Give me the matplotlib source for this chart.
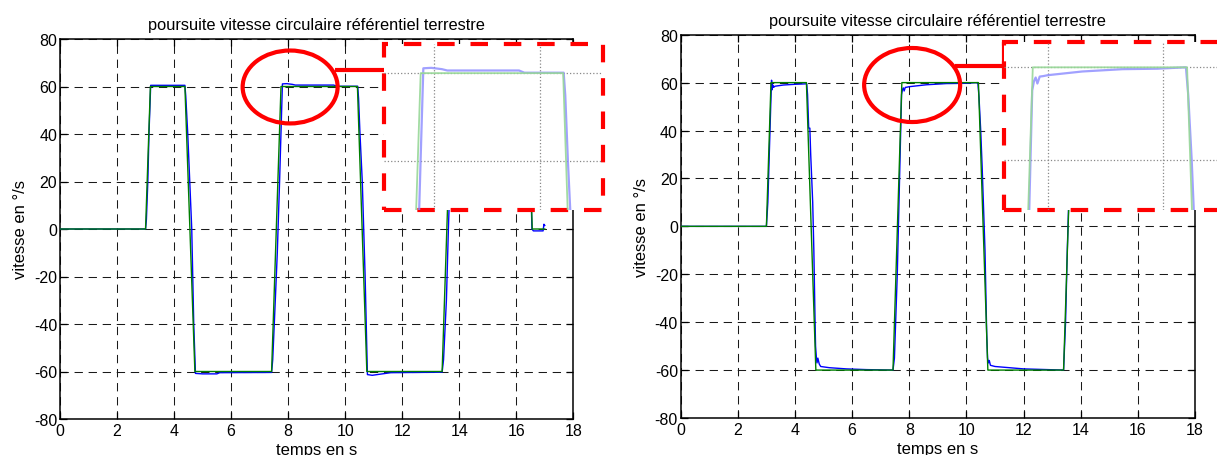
"""
Poursuite vitesse circulaire (référentiel terrestre) - two tracking runs
side by side, each with a zoom inset around the 60 °/s plateau.
"""

import numpy as np
import matplotlib.pyplot as plt
from matplotlib.patches import Ellipse, Rectangle
from matplotlib.lines import Line2D

plt.rcParams["font.family"] = ["Liberation Sans", "DejaVu Sans"]
plt.rcParams["axes.unicode_minus"] = False

# ----- Data -----
TITLE = "poursuite vitesse circulaire référentiel terrestre"
XLABEL = "temps en s"
YLABEL = "vitesse en °/s"

x_ticks = [0, 2, 4, 6, 8, 10, 12, 14, 16, 18]
y_ticks = [-80, -60, -40, -20, 0, 20, 40, 60, 80]

# left run: reference (green) and measured (blue)
t_ref_a = [0, 3.0, 3.17, 4.38, 4.73, 7.42, 7.75, 10.43, 10.76, 13.40, 13.73, 16.40, 16.56, 17.0]
v_ref_a = [0, 0, 60, 60, -60, -60, 60, 60, -60, -60, 60, 60, 0, 0]

t_mes_a = [0, 3.0, 3.03, 3.08, 3.12, 3.18, 4.38, 4.41, 4.48, 4.55, 4.62, 4.69, 4.75,
           5.0, 5.5, 5.6, 7.42, 7.46, 7.55, 7.62, 7.70, 7.76, 7.80, 7.95, 8.15,
           8.25, 9.60, 9.70, 10.44, 10.47, 10.52, 10.60, 10.70, 10.78, 10.95,
           11.30, 11.60, 13.40, 13.45, 13.55, 13.62, 13.70, 13.76, 16.42, 16.55,
           16.60, 16.94, 16.97, 17.0]
v_mes_a = [0, 0, 4, 20, 40, 60.5, 60.5, 56, 40, 20, 0, -40, -60.8,
           -61, -61, -60.5, -60.4, -55, -30, -10, 20, 45, 61.1, 61.2, 60.9,
           60.6, 60.6, 60.1, 60.1, 55, 40, 20, -20, -61.3, -61.6,
           -61.0, -60.5, -60.3, -55, -30, 0, 30, 60.4, 60.4, 0,
           -0.8, -0.8, 2, 1.5]

# right run
t_ref_b = [0, 3.0, 3.16, 4.40, 4.73, 7.43, 7.74, 10.42, 10.75, 13.40, 13.72, 17.7]
v_ref_b = [0, 0, 60, 60, -60, -60, 60, 60, -60, -60, 60, 60]

t_mes_b = [0, 3.0, 3.05, 3.10, 3.15, 3.18, 3.20, 3.22, 3.25, 3.30, 3.60, 4.00,
           4.41, 4.44, 4.48, 4.52, 4.55, 4.62, 4.66, 4.70, 4.72, 4.75, 4.77,
           4.80, 4.85, 4.90, 5.20, 5.80, 6.50, 7.43, 7.48, 7.58, 7.66, 7.73,
           7.76, 7.79, 7.82, 7.86, 7.92, 8.00, 8.60, 9.30, 9.90, 10.40,
           10.44, 10.47, 10.50, 10.55, 10.65, 10.71, 10.74, 10.77, 10.80,
           10.84, 11.00, 11.50, 12.00, 13.40, 13.47, 13.53, 13.58, 13.66,
           13.74, 17.7]
v_mes_b = [0, 0, 10, 30, 50, 61, 57, 59, 58, 58.5, 59, 59.3,
           59.5, 55, 41, 41, 30, 10, -10, -38, -50, -55, -57,
           -55, -57.5, -58.5, -59, -59.5, -59.8, -60, -55, -20, 20, 55,
           57, 57.8, 56.5, 58, 58.1, 58.3, 59.1, 59.6, 59.7, 60,
           54, 47, 40, 25, -10, -45, -55, -57, -56,
           -58, -58.5, -59, -59.5, -60, -40, -10, 10, 40,
           60, 60]

# zoom windows shown in the insets (time, speed)
zoom_a = ((7.06, 11.18), (29.0, 66.6))
zoom_b = ((7.24, 11.20), (29.2, 65.4))

BLUE = "#0000ff"
GREEN = "#007f00"
RED = "#ff0000"

W, H = 1217, 456
fig = plt.figure(figsize=(W / 100, H / 100), dpi=100)


def fpx(x, y):
    """pixel position -> figure fraction"""
    return x / W, 1 - y / H


def frect(x0, y0, x1, y1):
    return [x0 / W, 1 - y1 / H, (x1 - x0) / W, (y1 - y0) / H]


def main_axes(rect, t_ref, v_ref, t_mes, v_mes):
    ax = fig.add_axes(rect)
    ax.plot(t_mes, v_mes, color=BLUE, lw=1.0, zorder=3)
    ax.plot(t_ref, v_ref, color=GREEN, lw=1.0, zorder=4)
    ax.set_xlim(0, 18)
    ax.set_ylim(-80, 80)
    ax.set_xticks(x_ticks)
    ax.set_yticks(y_ticks)
    ax.tick_params(direction="in", length=5, width=0.9, top=True, right=True,
                   labelsize=11.5, pad=2)
    ax.tick_params(axis="x", pad=3)
    ax.grid(True, color="#1a1a1a", linestyle=(0, (8, 5.5)), linewidth=0.75)
    for s in ax.spines.values():
        s.set_linewidth(1.1)
    ax.set_title(TITLE, fontsize=11.8, pad=7)
    ax.set_xlabel(XLABEL, fontsize=12, labelpad=2.5)
    ax.set_ylabel(YLABEL, fontsize=12, labelpad=4)
    return ax


def inset_axes(rect, win, t_ref, v_ref, t_mes, v_mes):
    ax = fig.add_axes(rect, zorder=10)
    ax.set_facecolor("white")
    ax.plot(t_mes, v_mes, color="#8a8aff", lw=1.6, alpha=0.8)
    ax.plot(t_ref, v_ref, color="#98d898", lw=1.3, alpha=0.9)
    ax.set_xlim(*win[0])
    ax.set_ylim(*win[1])
    ax.set_xticks([8, 10])
    ax.set_yticks([40, 60])
    ax.tick_params(length=0, labelbottom=False, labelleft=False)
    ax.grid(True, color="#888888", linestyle=":", linewidth=0.9)
    for s in ax.spines.values():
        s.set_visible(False)
    ax.add_patch(Rectangle((0, 0), 1, 1, transform=ax.transAxes, fill=False,
                           edgecolor=RED, linewidth=3.0,
                           linestyle=(0, (4.2, 3.8)), clip_on=False))
    return ax


ax_a = main_axes(frect(60, 40, 573.3, 420), t_ref_a, v_ref_a, t_mes_a, v_mes_a)
ax_b = main_axes(frect(680.7, 35.7, 1195, 419), t_ref_b, v_ref_b, t_mes_b, v_mes_b)

# red circles around the 60 °/s plateau
ax_a.add_patch(Ellipse((8.07, 59.8), 3.33, 30.7, fill=False, edgecolor=RED,
                       linewidth=3.0, zorder=6, clip_on=False))
ax_b.add_patch(Ellipse((8.10, 59.0), 3.36, 30.9, fill=False, edgecolor=RED,
                       linewidth=3.0, zorder=6, clip_on=False))

# connectors from the circles to the insets
for xs, ys in [([335, 384], [71, 71]),
               ([955, 1004, 1004], [67, 67, 43])]:
    pts = [fpx(x, y) for x, y in zip(xs, ys)]
    fig.add_artist(Line2D([p[0] for p in pts], [p[1] for p in pts],
                          color=RED, linewidth=3.0, transform=fig.transFigure,
                          zorder=8, solid_capstyle="butt"))

inset_axes(frect(384, 45, 603, 211), zoom_a, t_ref_a, v_ref_a, t_mes_a, v_mes_a)
inset_axes(frect(1004, 43.3, 1232, 211), zoom_b, t_ref_b, v_ref_b, t_mes_b, v_mes_b)

fig.savefig("out.png", dpi=100)
print("Saved out.png")
